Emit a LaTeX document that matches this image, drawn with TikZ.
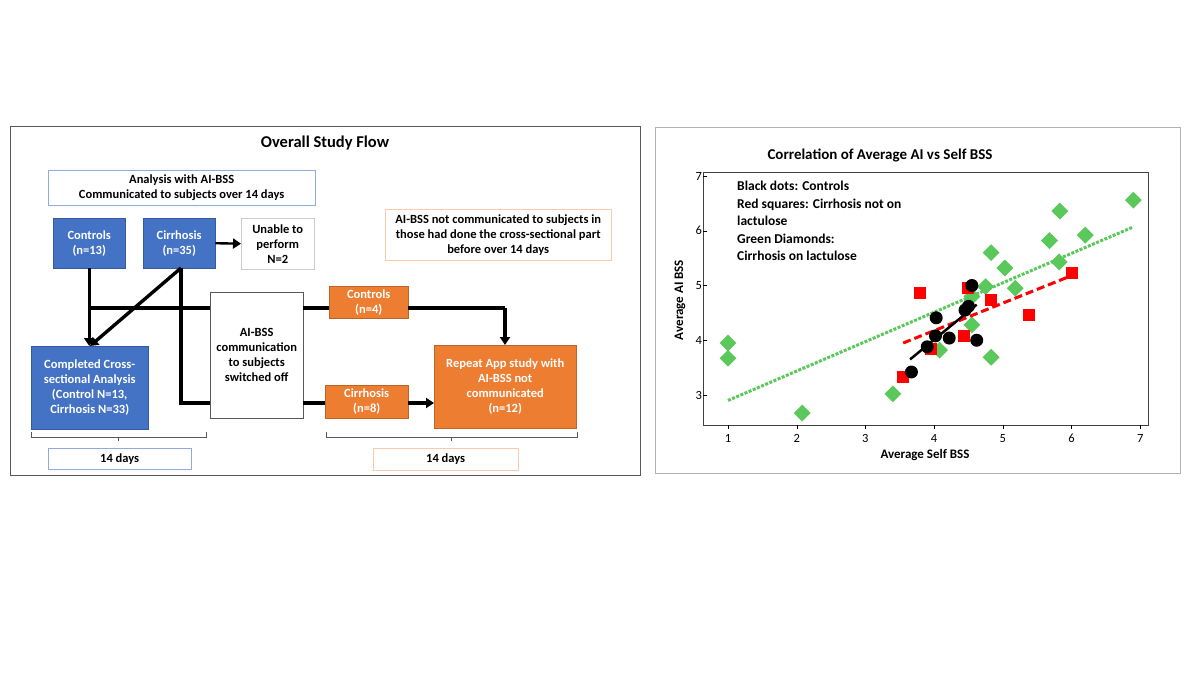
\documentclass[tikz,border=0pt]{standalone}
\usepackage{fontspec}
\setmainfont{Carlito}
\usetikzlibrary{arrows.meta,shapes.geometric}
\definecolor{cblue}{HTML}{4472C4}
\definecolor{corange}{HTML}{ED7D31}
\definecolor{lorange}{HTML}{F8CBAD}
\definecolor{lblue}{HTML}{8FAADC}
\definecolor{dgreen}{HTML}{5BC85B}
\tikzset{
  box/.style={draw, align=center, font=\bfseries\fontsize{12.5}{15}\selectfont, inner sep=1pt},
  bbox/.style={box, fill=cblue, draw=cblue!80!black, text=white},
  obox/.style={box, fill=corange, draw=corange!80!black, text=white},
  flow/.style={line width=3.4pt},
  arr/.style={flow, -{Triangle[length=8pt,width=10pt]}},
  tick/.style={font=\fontsize{12.5}{14}\selectfont},
}
\newcommand{\bx}[6]{\node[#1, minimum width=#4pt, minimum height=#5pt, anchor=north west] (#2) at (#3) {#6};}
\begin{document}
\begin{tikzpicture}[x=1pt,y=-1pt]
\useasboundingbox (0,0) rectangle (1200,675);
\fill[white] (0,0) rectangle (1200,675);
% left panel
\draw[gray!70!black, line width=1pt] (10,126) rectangle (640,475);
\node[font=\bfseries\fontsize{16.5}{18}\selectfont] (t1) at (325,143) {Overall Study Flow};
\bx{box,draw=lblue}{top}{48,170}{267}{35}{Analysis with AI-BSS\\Communicated to subjects over 14 days}
\bx{bbox}{ctl}{53,218}{72}{50}{Controls\\(n=13)}
\bx{bbox}{cir}{143,218}{72}{50}{Cirrhosis\\(n=35)}
\bx{box,draw=gray!40}{un}{241,218}{73}{51}{Unable to\\perform\\N=2}
\bx{box,draw=lorange}{note}{385,209}{226}{51}{AI-BSS not communicated to subjects in\\those had done the cross-sectional part\\before over 14 days}
\bx{box,draw=gray!70!black}{off}{210,292}{93}{126}{AI-BSS\\communication\\to subjects\\switched off}
\bx{obox}{oc}{329,286}{79}{32}{Controls\\(n=4)}
\bx{obox}{oz}{325,385}{83}{33}{Cirrhosis\\(n=8)}
\bx{bbox}{comp}{31,346}{117}{83}{Completed Cross-\\sectional Analysis\\(Control N=13,\\Cirrhosis N=33)}
\bx{obox}{rep}{434,345}{142}{83}{Repeat App study with\\AI-BSS not\\communicated\\(n=12)}
\bx{box,draw=lblue}{d1}{48,448}{143}{21}{14 days}
\bx{box,draw=lorange}{d2}{373,448}{145}{22}{14 days}
% connectors
\coordinate (cb) at (181,268);
\coordinate (hl) at (89,308);
\coordinate (vz) at (181,403);
\coordinate (rt) at (505,308);
\draw[arr] (ctl.south) -- (comp.north -| ctl.south);
\draw[arr] (cb) -- (90,346);
\draw[arr,line width=2.4pt] (cir.east) -- (un.west);
\draw[flow] (cb) -- (vz) -- (vz -| off.west);
\draw[flow] (hl) -- (hl -| off.west);
\draw[flow] (hl -| off.east) -- (oc.west |- hl);
\draw[flow] (vz -| off.east) -- (oz.west |- vz);
\draw[flow] (oc.east |- hl) -- (rt);
\draw[arr] (rt) -- (rep.north -| rt);
\draw[arr] (oz.east |- vz) -- (rep.west |- vz);
% brackets
\draw[gray!70!black] (31,432) -- (31,437) -- (206,437) -- (206,432) (118,437) -- (118,441);
\draw[gray!70!black] (326,432) -- (326,437) -- (577,437) -- (577,432) (451,437) -- (451,441);
% right panel
\draw[gray!60, line width=1pt] (655,127) rectangle (1180,473);
\node[font=\bfseries\fontsize{15}{17}\selectfont] (t2) at (880,155) {Correlation of Average AI vs Self BSS};
\draw[gray!50!black, line width=0.8pt] (703,172) rectangle (1148,425);
\node[rotate=90, font=\bfseries\fontsize{13}{15}\selectfont] (yl) at (680,300) {Average AI BSS};
\node[font=\bfseries\fontsize{13}{15}\selectfont] (xl) at (925,455) {Average Self BSS};
\node[anchor=north west, align=left, font=\bfseries\fontsize{13.5}{17.5}\selectfont, inner sep=0] (leg) at (737,181)
  {Black dots: Controls\\Red squares: Cirrhosis not on\\lactulose\\Green Diamonds:\\Cirrhosis on lactulose};
\begin{scope}[shift={(659.3,559.25)}, x=68.7pt, y=54.75pt]
  \foreach \i in {1,...,7} {
    \draw (\i,2.45) -- (\i,2.37);
    \node[tick] at (\i,2.2) {\i};
  }
  \foreach \j in {3,...,7} {
    \draw (0.7,\j) -- (0.64,\j);
    \node[tick, anchor=east, inner sep=1pt] at (0.64,\j) {\j};
  }
  \foreach \p in {(1,3.95),(1,3.67),(2.08,2.67),(3.4,3.02),(4.08,3.82),(4.55,4.28),(4.83,3.69),(4.55,4.8),(4.75,4.98),(4.83,5.6),(5.03,5.32),(5.18,4.95),(5.68,5.82),(5.82,5.43),(5.83,6.36),(6.2,5.92),(6.9,6.56)}
    \node[diamond, fill=dgreen, minimum size=17pt, inner sep=0] at \p {};
  \draw[dgreen, line width=3pt, dash pattern=on 3pt off 1.5pt] (1,2.9) -- (6.9,6.07);
  \foreach \p in {(3.8,4.87),(4.5,4.96),(4.83,4.74),(4.43,4.07),(3.95,3.84),(3.55,3.33),(5.38,4.47),(6.0,5.23)}
    \node[fill=red, minimum size=12pt, inner sep=0] at \p {};
  \draw[red, line width=3pt, dash pattern=on 8pt off 4pt] (3.55,3.95) -- (6,5.18);
  \foreach \p in {(3.67,3.42),(3.9,3.88),(4.02,4.08),(4.03,4.41),(4.22,4.04),(4.62,4.0),(4.55,5.0),(4.45,4.55),(4.5,4.62)}
    \node[circle, fill=black, minimum size=13pt, inner sep=0] at \p {};
  \draw[line width=2.5pt] (3.65,3.65) -- (4.62,4.65);
\end{scope}
\end{tikzpicture}
\end{document}
